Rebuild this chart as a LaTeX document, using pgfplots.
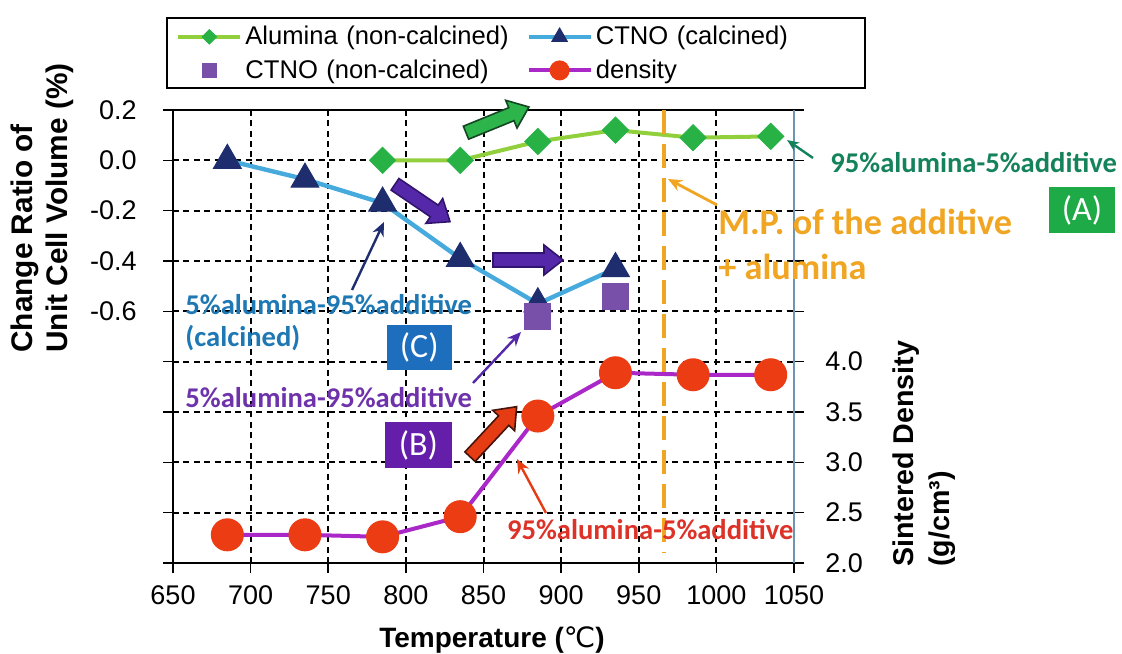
\documentclass[border=0pt]{standalone}
\usepackage{fontspec}
\setmainfont{Liberation Sans}
\newfontfamily\calib{Carlito}
\newfontfamily\dejavu{DejaVu Sans}
\usepackage{pgfplots}
\pgfplotsset{compat=1.18}
\usetikzlibrary{arrows.meta}

\definecolor{algreen}{RGB}{145,208,60}
\definecolor{diagreen}{RGB}{40,178,70}
\definecolor{ctnoblue}{RGB}{70,170,220}
\definecolor{navytri}{RGB}{30,45,110}
\definecolor{sqpurple}{RGB}{120,80,170}
\definecolor{denline}{RGB}{170,40,200}
\definecolor{denred}{RGB}{235,60,20}
\definecolor{mporange}{RGB}{240,165,35}
\definecolor{raxis}{RGB}{110,150,180}
\definecolor{tgreen}{RGB}{20,130,90}
\definecolor{tblue}{RGB}{30,120,180}
\definecolor{tpurple}{RGB}{110,50,170}
\definecolor{tred}{RGB}{220,50,40}
\definecolor{boxA}{RGB}{30,170,70}
\definecolor{boxB}{RGB}{100,30,170}
\definecolor{boxC}{RGB}{30,110,190}
\definecolor{arrgreen}{RGB}{45,180,75}
\definecolor{arrgreenD}{RGB}{20,70,35}
\definecolor{arrpurple}{RGB}{85,40,170}
\definecolor{arrpurpleD}{RGB}{50,20,110}
\definecolor{arrred}{RGB}{230,60,20}
\definecolor{arrredD}{RGB}{70,20,10}

% fat arrow: tail x, tail y, angle, length, fill, outline
\newcommand{\blockarrow}[6]{%
  \begin{scope}[shift={(#1,#2)}, rotate=#3]
    \filldraw[fill=#5, draw=#6, line width=0.8pt, line join=miter]
      (0,-7) -- (#4-19,-7) -- (#4-19,-15) -- (#4,0) -- (#4-19,15) -- (#4-19,7) -- (0,7) -- cycle;
  \end{scope}}

\pgfplotsset{
  common/.style={
    at={(86.5pt,45pt)}, anchor=south west,
    scale only axis, width=310.5pt, height=226.5pt,
    xmin=650, xmax=1050,
    tick align=outside, major tick length=5pt,
    tick style={black, line width=0.8pt},
    ticklabel style={font=\fontsize{13.5}{16}\selectfont},
  },
}

\begin{document}
\begin{tikzpicture}
\path[use as bounding box] (0,0) rectangle (561pt,326.5pt);

% legend frame
\draw[black, line width=0.9pt] (83.5pt,317.65pt) rectangle (432.5pt,282.65pt);

% left axis: change ratio of unit cell volume
\begin{axis}[common,
  ymin=-1.6, ymax=0.2,
  axis x line*=box, axis y line*=left,
  axis line style={-, line width=1pt, black},
  xtick={650,700,750,800,850,900,950,1000,1050},
  xticklabels={650,700,750,800,850,900,950,1000,1050},
  xtick pos=bottom,
  ytick={-1.6,-1.4,-1.2,-1.0,-0.8,-0.6,-0.4,-0.2,0,0.2},
  yticklabels={,,,,,-0.6,-0.4,-0.2,0.0,0.2},
  yticklabel style={inner sep=0pt, xshift=-13pt},
  xticklabel style={inner sep=0pt, yshift=-6pt},
  grid=major,
  major grid style={black, line width=1pt, dash pattern=on 3pt off 2.2pt},
  legend columns=2,
  legend cell align=left,
  legend style={at={(axis description cs:0,1)}, anchor=north west,
    xshift=0.5pt, yshift=46.15pt, draw=none, fill=none,
    font=\fontsize{12.8}{15}\selectfont, inner xsep=1pt, inner ysep=2pt,
    row sep=2pt, nodes={inner xsep=1.5pt, text width=139pt}},
  legend image code/.code={\draw[mark repeat=2, mark phase=2, #1]
      plot coordinates {(0pt,0pt) (15.5pt,0pt) (31pt,0pt)};},
  legend image post style={/tikz/every mark/.append style={scale=0.55}},
]
\addplot[algreen, line width=2pt, mark=square*,
  mark options={rotate=45, fill=diagreen, draw=diagreen, line width=0.5pt}, mark size=4.6pt]
  coordinates {(785,0) (835,0) (885,0.075) (935,0.12) (985,0.09) (1035,0.095)};
\addlegendentry{Alumina (non-calcined)}
\addplot[ctnoblue, line width=2.2pt, mark=triangle*,
  mark options={fill=navytri, draw=navytri, line width=0.5pt}, mark size=8pt]
  coordinates {(685,0) (735,-0.075) (785,-0.17) (835,-0.39) (885,-0.57) (935,-0.43)};
\addlegendentry{CTNO (calcined)}
\addplot[only marks, mark=square*, mark size=6.5pt,
  mark options={fill=sqpurple, draw=sqpurple, line width=0.5pt}]
  coordinates {(885,-0.62) (935,-0.54)};
\addlegendentry{CTNO (non-calcined)}
\addlegendimage{denline, line width=2pt, mark=*, mark size=7.25pt,
  mark options={fill=denred, draw=denred}}
\addlegendentry{density}
% melting point of the additive + alumina
\draw[mporange, line width=2pt, dash pattern=on 12pt off 5pt]
  (axis cs:966,0.2) -- (axis cs:966,-1.56);
\end{axis}

% right axis: sintered density
\begin{axis}[common,
  ymin=2, ymax=6.5,
  axis x line=none, axis y line*=right,
  axis line style={-, line width=0.6pt, raxis},
  ytick={2,2.5,3,3.5,4,4.5,5,5.5,6,6.5},
  yticklabels={2.0,2.5,3.0,3.5,4.0,,,,,},
  yticklabel style={inner sep=0pt, xshift=10.5pt},
]
\addplot[denline, line width=2pt, mark=*, mark size=7.25pt,
  mark options={fill=denred, draw=denred}]
  coordinates {(685,2.28) (735,2.28) (785,2.26) (835,2.46) (885,3.46)
               (935,3.89) (985,3.87) (1035,3.87)};
\end{axis}

% titles and annotations, placed in pixel units from the top left corner
\begin{scope}[x=0.5pt, y=-0.5pt, shift={(0,326.5pt)}]
  % axis titles
  \node[rotate=90, anchor=west, align=left, inner sep=0pt,
        font=\bfseries\fontsize{14.9}{17.5}\selectfont] at (42.5,353)
        {Change Ratio of\\Unit Cell Volume (\%)};
  \node[rotate=90, anchor=west, align=left, inner sep=0pt,
        font=\bfseries\fontsize{14.3}{18}\selectfont] at (924,567)
        {Sintered Density\\(g/cm³)};
  \node[font=\bfseries\fontsize{14}{17}\selectfont] at (492,640)
        {Temperature ({\dejavu\mdseries ℃})};

  % fat arrows
  \blockarrow{466}{132.7}{22.2}{68}{arrgreen}{arrgreenD}
  \blockarrow{395}{184.3}{-34.2}{66.5}{arrpurple}{arrpurpleD}
  \blockarrow{493}{260}{0}{70}{arrpurple}{arrpurpleD}
  \blockarrow{470}{456.7}{47}{68.4}{arrred}{arrredD}

  % thin pointers
  \draw[tgreen, line width=1.2pt, -{Stealth[length=6pt,width=5pt]}] (813,158) -- (787,140);
  \draw[mporange, line width=1.4pt, -{Stealth[length=7pt,width=6pt]}] (717,205) -- (668,179);
  \draw[navytri, line width=1.2pt, -{Stealth[length=7pt,width=6pt]}] (352,290) -- (384,222);
  \draw[arrpurple, line width=1.2pt, -{Stealth[length=7pt,width=6pt]}] (473,383) -- (521,332);
  \draw[arrred, line width=1.2pt, -{Stealth[length=7pt,width=6pt]}] (546,513) -- (517,459);

  % annotation texts
  \begin{scope}[every node/.style={inner sep=0pt, anchor=west,
      font=\calib\bfseries\fontsize{14.3}{17}\selectfont}]
    \node[text=tgreen] at (830,163) {95\%alumina-5\%additive};
    \node[text=tblue] at (185,305) {5\%alumina-95\%additive};
    \node[text=tblue] at (185,338) {(calcined)};
    \node[text=tpurple] at (185,398) {5\%alumina-95\%additive};
    \node[text=tred] at (506.7,530) {95\%alumina-5\%additive};
    \node[text=mporange, font=\calib\bfseries\fontsize{18.1}{21}\selectfont]
      at (718,221.7) {M.P. of the additive};
    \node[text=mporange, font=\calib\bfseries\fontsize{18.1}{21}\selectfont]
      at (718,266.7) {+ alumina};
  \end{scope}

  % panel tags
  \fill[boxA] (1049,186.7) rectangle (1115,233);
  \node[text=white, font=\calib\fontsize{17}{20}\selectfont] at (1082,210) {(A)};
  \fill[boxC] (386.7,325) rectangle (451.7,370);
  \node[text=white, font=\calib\fontsize{17}{20}\selectfont] at (419.2,347.5) {(C)};
  \fill[boxB] (385,421.7) rectangle (451.7,468.3);
  \node[text=white, font=\calib\fontsize{17}{20}\selectfont] at (418.4,445) {(B)};
\end{scope}
\end{tikzpicture}
\end{document}
